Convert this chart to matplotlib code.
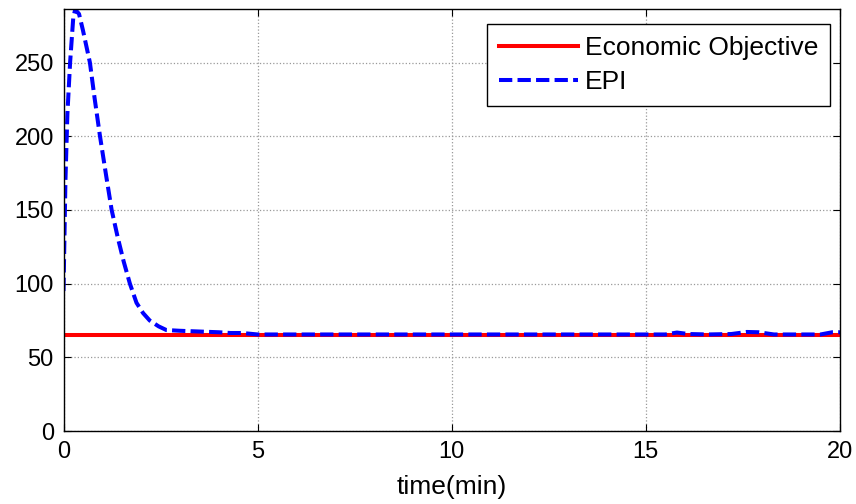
import matplotlib.pyplot as plt

plt.rcParams["font.family"] = ["Liberation Sans", "DejaVu Sans"]

# EPI trajectory (time in minutes)
time_epi = [0, 0.05, 0.1, 0.17, 0.25, 0.3, 0.4, 0.5, 0.68, 0.8, 0.94, 1.1, 1.24,
            1.4, 1.55, 1.71, 1.88, 2.05, 2.22, 2.45, 2.65, 3.0, 3.5, 4.0, 4.3,
            4.6, 5.0, 8.0, 12.0, 15.0, 15.5, 15.8, 16.1, 16.6, 17.2, 17.6, 17.9,
            18.3, 19.0, 19.5, 19.8, 20.0]
epi = [95, 170, 215, 250, 280, 286, 283, 272, 250, 226, 200, 173, 150,
       131, 115, 100, 87, 80, 75, 71, 68.5, 68, 67.5, 67, 66.5,
       66.5, 65.5, 65.5, 65.5, 65.5, 65.5, 66.8, 65.8, 65.5, 65.8, 67.2, 67,
       65.5, 65.5, 65.5, 67, 67]

# Economic objective (constant)
time_obj = [0, 20]
objective = [65, 65]

fig = plt.figure(figsize=(8.56, 5.04), dpi=100)
ax = fig.add_axes([63.5 / 856, 1 - 431 / 504, (840 - 63.5) / 856, (431 - 9.5) / 504])

ax.plot(time_obj, objective, color="red", linewidth=2.9, label="Economic Objective")
ax.plot(time_epi, epi, color="blue", linewidth=2.9, linestyle=(0, (3.3, 1.3)), label="EPI")

ax.set_xlim(0, 20)
ax.set_ylim(0, 286)
ax.set_xticks([0, 5, 10, 15, 20])
ax.set_yticks([0, 50, 100, 150, 200, 250])
ax.grid(True, color="#999999", linestyle=":", linewidth=0.9)
ax.tick_params(direction="in", top=True, right=True, labelsize=17, length=5, pad=7)
for s in ax.spines.values():
    s.set_linewidth(1.0)
ax.set_xlabel("time(min)", fontsize=19, labelpad=9)

leg = ax.legend(loc="upper right", bbox_to_anchor=(830 / 856, 1 - 24 / 504),
                bbox_transform=fig.transFigure, borderaxespad=0, fontsize=19,
                fancybox=False, framealpha=1, edgecolor="black",
                handlelength=3.0, handletextpad=0.25, borderpad=0.45,
                labelspacing=0.4)
leg.get_frame().set_linewidth(1.0)

plt.savefig("out.png", dpi=100)
